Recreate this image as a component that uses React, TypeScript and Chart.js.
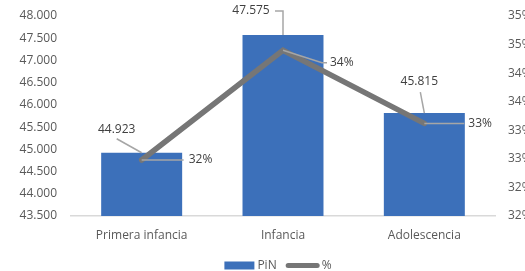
import React, { useEffect, useRef } from "react";
import { Chart, registerables } from "chart.js";

Chart.register(...registerables);

const categories = ["Primera infancia", "Infancia", "Adolescencia"];
const pinValues = [44923, 47575, 45815];
const pctValues = [32.48, 34.4, 33.12];
const seriesNames = ["PiN", "%"];

const leftMin = 43500;
const leftMax = 48000;
const leftStep = 500;
const rightMin = 31.5;
const rightMax = 35;
const rightStep = 0.5;

const BAR_COLOR = "#3C70BA";
const LINE_COLOR = "#767676";
const LEADER_COLOR = "#A6A6A6";
const AXIS_TEXT = "#595959";
const LABEL_TEXT = "#404040";
const FONT_FAMILY = "'Open Sans', 'Noto Sans', sans-serif";

// label placement (styling): text anchor offset and leader path relative to the mark
const barLabelLayout = [
  { tx: -25, ty: -23, align: "center", path: [[-25, -14], [0, 0]] },
  { tx: -32, ty: -24, align: "center", path: [[-8, -24], [0, -24], [0, 0]] },
  { tx: -5, ty: -32, align: "center", path: [[-4, -21], [0, 0]] },
];
const lineLabelLayout = [
  { tx: 47, ty: 0, align: "left", path: [[0, 0], [42, 0]] },
  { tx: 47, ty: 12, align: "left", path: [[0, 0], [39, 12.5], [44, 12.5]] },
  { tx: 44, ty: 0, align: "left", path: [[0, 0], [40, 0]] },
];

function fmtThousands(v: number): string {
  const s = Math.round(v).toString();
  return s.replace(/\B(?=(\d{3})+(?!\d))/g, ".");
}
function fmtPct(v: number): string {
  return Math.round(v) + "%";
}

const labelsPlugin = {
  id: "leaderLabels",
  afterDatasetsDraw(chart: any) {
    const ctx = chart.ctx;
    ctx.save();
    ctx.font = `12px ${FONT_FAMILY}`;
    ctx.textBaseline = "middle";
    const drawSet = (dsIndex: number, layout: any[], fmt: (v: number) => string) => {
      const meta = chart.getDatasetMeta(dsIndex);
      const data = chart.data.datasets[dsIndex].data as number[];
      meta.data.forEach((el: any, i: number) => {
        const L = layout[i];
        const x = el.x;
        const y = el.y;
        ctx.strokeStyle = LEADER_COLOR;
        ctx.lineWidth = 1.5;
        ctx.beginPath();
        L.path.forEach((p: number[], k: number) => {
          if (k === 0) ctx.moveTo(x + p[0], y + p[1]);
          else ctx.lineTo(x + p[0], y + p[1]);
        });
        ctx.stroke();
        ctx.fillStyle = LABEL_TEXT;
        ctx.textAlign = L.align;
        ctx.fillText(fmt(data[i]), x + L.tx, y + L.ty);
      });
    };
    drawSet(0, barLabelLayout, fmtThousands);
    drawSet(1, lineLabelLayout, fmtPct);
    ctx.restore();
  },
};

const legendPlugin = {
  id: "customLegend",
  afterDraw(chart: any) {
    const ctx = chart.ctx;
    ctx.save();
    ctx.font = `12px ${FONT_FAMILY}`;
    ctx.textBaseline = "middle";
    ctx.textAlign = "left";
    const cy = chart.height - 5.5;
    const w0 = ctx.measureText(seriesNames[0]).width;
    const w1 = ctx.measureText(seriesNames[1]).width;
    const total = 30 + 3 + w0 + 9 + 34 + 2 + w1;
    let x = (chart.chartArea.left + chart.chartArea.right) / 2 - 5 - total / 2;
    ctx.fillStyle = BAR_COLOR;
    ctx.fillRect(x, cy - 4, 30, 8);
    x += 33;
    ctx.fillStyle = AXIS_TEXT;
    ctx.fillText(seriesNames[0], x, cy);
    x += w0 + 9;
    ctx.strokeStyle = LINE_COLOR;
    ctx.lineWidth = 5;
    ctx.lineCap = "round";
    ctx.beginPath();
    ctx.moveTo(x + 2.5, cy);
    ctx.lineTo(x + 31.5, cy);
    ctx.stroke();
    x += 36;
    ctx.fillStyle = AXIS_TEXT;
    ctx.fillText(seriesNames[1], x, cy);
    ctx.restore();
  },
};

export default function App() {
  const canvasRef = useRef<HTMLCanvasElement | null>(null);

  useEffect(() => {
    document.body.style.margin = "0";
    const canvas = canvasRef.current;
    if (!canvas) return;
    const chart = new Chart(canvas, {
      type: "bar",
      data: {
        labels: categories,
        datasets: [
          {
            type: "bar",
            label: seriesNames[0],
            data: pinValues,
            backgroundColor: BAR_COLOR,
            yAxisID: "y",
            order: 2,
            categoryPercentage: 1,
            barPercentage: 0.573,
          },
          {
            type: "line",
            label: seriesNames[1],
            data: pctValues,
            borderColor: LINE_COLOR,
            backgroundColor: LINE_COLOR,
            borderWidth: 5.5,
            pointRadius: 0,
            tension: 0,
            borderJoinStyle: "miter",
            borderCapStyle: "round",
            yAxisID: "y1",
            order: 1,
          } as any,
        ],
      },
      options: {
        responsive: false,
        animation: false,
        devicePixelRatio: 1,
        layout: { padding: { top: 16, bottom: 0, left: 0, right: 0 } },
        plugins: {
          legend: { display: false },
          tooltip: { enabled: false },
        },
        scales: {
          x: {
            grid: { display: false, drawTicks: false },
            border: { display: true, color: "#D9D9D9", width: 1.5 },
            ticks: {
              color: AXIS_TEXT,
              font: { family: FONT_FAMILY, size: 12 },
              padding: 12,
              maxRotation: 0,
            },
            afterFit: (s: any) => {
              s.height = 55;
            },
          },
          y: {
            position: "left",
            min: leftMin,
            max: leftMax,
            grid: { display: false, drawTicks: false },
            border: { display: false },
            ticks: {
              stepSize: leftStep,
              color: AXIS_TEXT,
              font: { family: FONT_FAMILY, size: 12 },
              padding: 14,
              callback: (v: any) => fmtThousands(Number(v)),
            },
            afterFit: (s: any) => {
              s.width = 71;
              s.paddingTop = 0;
              s.paddingBottom = 0;
            },
          },
          y1: {
            position: "right",
            min: rightMin,
            max: rightMax,
            grid: { display: false, drawTicks: false },
            border: { display: false },
            ticks: {
              stepSize: rightStep,
              color: AXIS_TEXT,
              font: { family: FONT_FAMILY, size: 12 },
              padding: 13,
              callback: (v: any) => fmtPct(Number(v)),
            },
            afterFit: (s: any) => {
              s.width = 30;
              s.paddingTop = 0;
              s.paddingBottom = 0;
            },
          },
        },
      },
      plugins: [labelsPlugin, legendPlugin],
    });
    return () => chart.destroy();
  }, []);

  return (
    <div style={{ position: "absolute", left: 0, top: 0, width: 525, height: 271 }}>
      <canvas ref={canvasRef} width={525} height={271} />
    </div>
  );
}
